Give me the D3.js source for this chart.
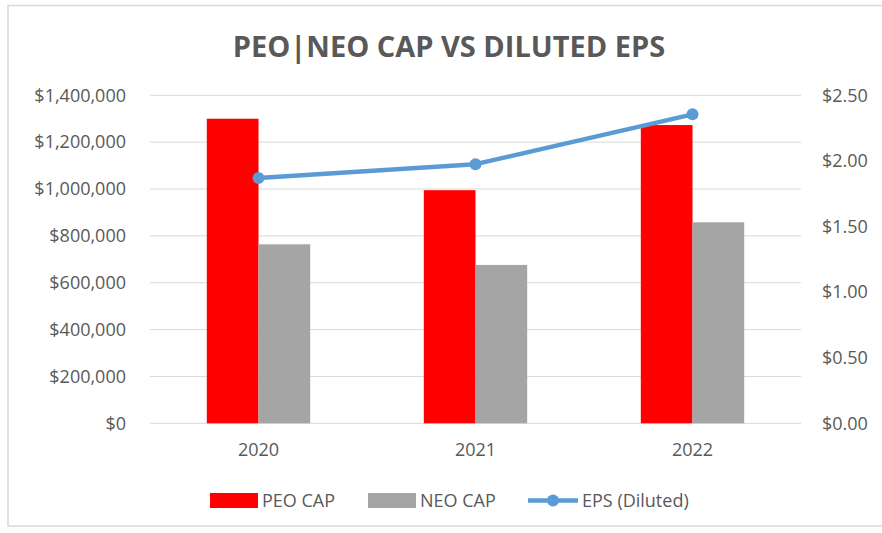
<!DOCTYPE html>
<html>
<head>
<meta charset="utf-8">
<script src="https://cdn.jsdelivr.net/npm/d3@7"></script>
<style>
  html, body { margin: 0; padding: 0; background: #fff; }
  svg { display: block; font-family: "Open Sans", sans-serif; }
</style>
</head>
<body>
<svg id="chart" width="882" height="533"></svg>
<script>
const title = "PEO|NEO CAP VS DILUTED EPS";
const years = ["2020", "2021", "2022"];
const peoCap = [1300000, 995000, 1273000];
const neoCap = [764000, 676000, 858000];
const epsDiluted = [1.87, 1.975, 2.355];
const leftTicks = [0, 200000, 400000, 600000, 800000, 1000000, 1200000, 1400000];
const rightTicks = [0, 0.5, 1.0, 1.5, 2.0, 2.5];
const seriesNames = ["PEO CAP", "NEO CAP", "EPS (Diluted)"];
const colors = ["#ff0000", "#a5a5a5", "#5b9bd5"];

const svg = d3.select("#chart");
const textColor = "#595959";
const gridColor = "#d9d9d9";
const fs = 18;

const plot = { left: 150, right: 801, top: 95.3, bottom: 423.3 };

// chart border
svg.append("rect")
  .attr("x", 8).attr("y", 5.5).attr("width", 900).attr("height", 520.5)
  .attr("fill", "none").attr("stroke", "#d9d9d9").attr("stroke-width", 1.5);

// title
svg.append("text")
  .attr("x", 449).attr("y", 57)
  .attr("text-anchor", "middle")
  .attr("font-size", 29).attr("font-weight", "bold")
  .attr("fill", textColor)
  .text(title);

const x0 = d3.scaleBand().domain(years).range([plot.left, plot.right]).padding(0);
const bw = x0.bandwidth();
const x1 = d3.scaleBand().domain(["peo", "neo"]).range([bw * 0.2618, bw * 0.7382]).padding(0);
const yL = d3.scaleLinear().domain([0, 1400000]).range([plot.bottom, plot.top]);
const yR = d3.scaleLinear().domain([0, 2.5]).range([plot.bottom, plot.top]);

// gridlines
svg.append("g").selectAll("line").data(leftTicks).join("line")
  .attr("x1", plot.left).attr("x2", plot.right)
  .attr("y1", d => yL(d)).attr("y2", d => yL(d))
  .attr("stroke", gridColor).attr("stroke-width", 1);

// left axis
const fmtL = d => "$" + d3.format(",")(d);
const leftAxis = svg.append("g")
  .attr("transform", `translate(${plot.left},0)`)
  .call(d3.axisLeft(yL).tickValues(leftTicks).tickFormat(fmtL).tickSize(0).tickPadding(24));
leftAxis.select(".domain").remove();
leftAxis.selectAll("text").attr("fill", textColor).attr("font-size", fs)
  .attr("font-family", "Open Sans, sans-serif");

// right axis
const fmtR = d => "$" + d3.format(".2f")(d);
const rightAxis = svg.append("g")
  .attr("transform", `translate(${plot.right},0)`)
  .call(d3.axisRight(yR).tickValues(rightTicks).tickFormat(fmtR).tickSize(0).tickPadding(21));
rightAxis.select(".domain").remove();
rightAxis.selectAll("text").attr("fill", textColor).attr("font-size", fs)
  .attr("font-family", "Open Sans, sans-serif");

// x axis labels
const xAxis = svg.append("g")
  .attr("transform", `translate(0,${plot.bottom})`)
  .call(d3.axisBottom(x0).tickSize(0).tickPadding(20));
xAxis.select(".domain").remove();
xAxis.selectAll("text").attr("fill", textColor).attr("font-size", fs)
  .attr("font-family", "Open Sans, sans-serif");

// bars
const groups = svg.append("g").selectAll("g").data(years).join("g")
  .attr("transform", d => `translate(${x0(d)},0)`);
groups.append("rect")
  .attr("x", x1("peo")).attr("width", x1.bandwidth())
  .attr("y", (d, i) => yL(peoCap[i])).attr("height", (d, i) => plot.bottom - yL(peoCap[i]))
  .attr("fill", colors[0]);
groups.append("rect")
  .attr("x", x1("neo")).attr("width", x1.bandwidth())
  .attr("y", (d, i) => yL(neoCap[i])).attr("height", (d, i) => plot.bottom - yL(neoCap[i]))
  .attr("fill", colors[1]);

// EPS line
const cx = d => x0(d) + bw / 2;
const line = d3.line().x(d => cx(d.year)).y(d => yR(d.v));
const epsData = years.map((y, i) => ({ year: y, v: epsDiluted[i] }));
svg.append("path").datum(epsData)
  .attr("d", line).attr("fill", "none")
  .attr("stroke", colors[2]).attr("stroke-width", 4.5).attr("stroke-linejoin", "round");
svg.append("g").selectAll("circle").data(epsData).join("circle")
  .attr("cx", d => cx(d.year)).attr("cy", d => yR(d.v)).attr("r", 6)
  .attr("fill", colors[2]);

// legend
const legY = 500.5;
const leg = svg.append("g");
leg.append("rect").attr("x", 210).attr("y", legY - 7.5).attr("width", 48).attr("height", 15).attr("fill", colors[0]);
leg.append("text").attr("x", 262).attr("y", legY).attr("dy", "0.35em")
  .attr("font-size", fs).attr("fill", textColor).text(seriesNames[0]);
leg.append("rect").attr("x", 368).attr("y", legY - 7.5).attr("width", 48).attr("height", 15).attr("fill", colors[1]);
leg.append("text").attr("x", 420).attr("y", legY).attr("dy", "0.35em")
  .attr("font-size", fs).attr("fill", textColor).text(seriesNames[1]);
leg.append("line").attr("x1", 528).attr("x2", 578).attr("y1", legY).attr("y2", legY)
  .attr("stroke", colors[2]).attr("stroke-width", 4.5);
leg.append("circle").attr("cx", 553).attr("cy", legY).attr("r", 6).attr("fill", colors[2]);
leg.append("text").attr("x", 582).attr("y", legY).attr("dy", "0.35em")
  .attr("font-size", fs).attr("fill", textColor).text(seriesNames[2]);
</script>
</body>
</html>
